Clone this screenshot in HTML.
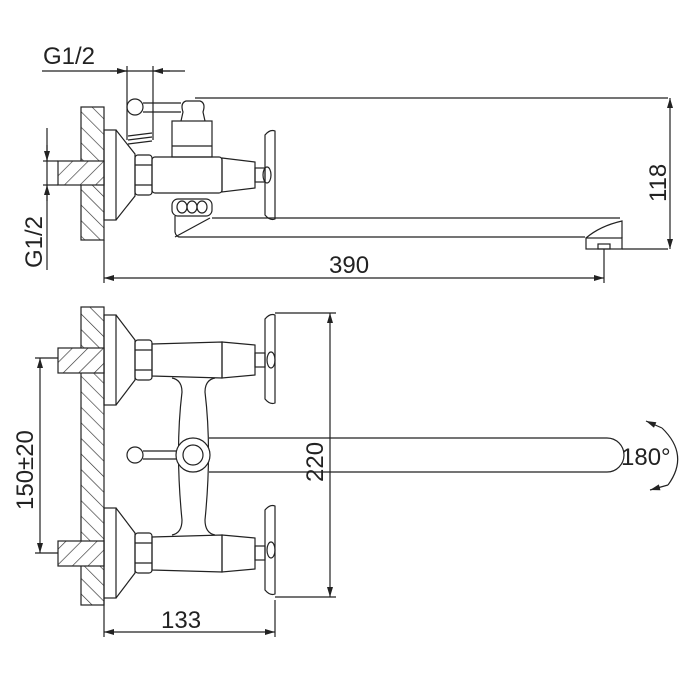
<!DOCTYPE html>
<html><head><meta charset="utf-8"><style>body{margin:0;background:#fff}svg{display:block}text{font-family:"Liberation Sans",sans-serif;font-size:24px;fill:#222}</style></head><body>
<svg width="700" height="700" viewBox="0 0 700 700" xmlns="http://www.w3.org/2000/svg">
<defs>
<pattern id="h" width="11" height="11" patternUnits="userSpaceOnUse" patternTransform="rotate(-45)"><rect width="11" height="11" fill="#fff"/><line x1="0" y1="0" x2="0" y2="11" stroke="#333" stroke-width="1.3"/></pattern>
<pattern id="h2" width="11" height="11" patternUnits="userSpaceOnUse" patternTransform="rotate(45)"><rect width="11" height="11" fill="#fff"/><line x1="0" y1="0" x2="0" y2="11" stroke="#333" stroke-width="1.3"/></pattern>
<marker id="a" viewBox="0 0 10 6" refX="10" refY="3" markerWidth="14" markerHeight="6" markerUnits="userSpaceOnUse" orient="auto"><path d="M0,0L10,3L0,6z" fill="#222"/></marker>
</defs>
<g fill="none" stroke="#222" stroke-width="1.2">
<!-- TOP VIEW -->
<rect x="81" y="107" width="23" height="133" fill="url(#h)"/>
<rect x="58" y="161" width="46" height="24" fill="url(#h2)"/>
<line x1="42" y1="71" x2="185" y2="71"/>
<line x1="110" y1="71" x2="127" y2="71" marker-end="url(#a)"/>
<line x1="170" y1="71" x2="153" y2="71" marker-end="url(#a)"/>
<line x1="127" y1="66" x2="127" y2="140"/><line x1="153" y1="66" x2="153" y2="140"/>
<line x1="47" y1="128" x2="47" y2="270"/>
<line x1="47" y1="145" x2="47" y2="161" marker-end="url(#a)"/>
<line x1="47" y1="201" x2="47" y2="185" marker-end="url(#a)"/>
<line x1="43" y1="161" x2="58" y2="161"/><line x1="43" y1="185" x2="58" y2="185"/>
<rect x="104" y="130" width="12" height="90"/>
<path d="M116,130 L135,154 L135,196 L116,220"/>
<rect x="135" y="155" width="17" height="40" rx="3"/>
<line x1="135" y1="165" x2="152" y2="165"/><line x1="135" y1="185" x2="152" y2="185"/>
<rect x="152" y="157" width="70" height="36" rx="3"/>
<path d="M222,158 L255,162 L255,188 L222,192z"/>
<rect x="255" y="168" width="10" height="14"/>
<path d="M265,135 Q270,129 275,131 L275,219 Q270,221 265,215 Z"/>
<ellipse cx="267" cy="175" rx="4" ry="8"/>
<rect x="172" y="121" width="40" height="36"/>
<line x1="172" y1="146" x2="212" y2="146"/>
<path d="M181,121 L183,112 Q180,103 186,101 L200,101 Q206,103 203,112 L205,121"/>
<circle cx="135" cy="107" r="8"/>
<line x1="143" y1="103" x2="181" y2="103"/><line x1="143" y1="112" x2="181" y2="112"/>
<line x1="128" y1="136" x2="152" y2="133"/><line x1="128" y1="140" x2="152" y2="137"/><line x1="128" y1="144" x2="152" y2="141"/>
<rect x="172" y="199" width="40" height="17" rx="6"/>
<ellipse cx="182" cy="207" rx="5" ry="6"/><ellipse cx="192" cy="207" rx="5" ry="6"/><ellipse cx="202" cy="207" rx="5" ry="6"/>
<line x1="212" y1="218" x2="620" y2="218"/>
<path d="M175,216 L175,232 Q176,237 180,237 L585,237"/>
<path d="M175,237 L210,218"/>
<path d="M586,238 Q600,226 622,221 L622,238"/>
<rect x="586" y="238" width="36" height="11"/>
<rect x="598" y="244" width="12" height="5"/>
<line x1="195" y1="98" x2="668" y2="98"/><line x1="622" y1="249" x2="668" y2="249"/>
<line x1="670" y1="120" x2="670" y2="98" marker-end="url(#a)"/>
<line x1="670" y1="120" x2="670" y2="228"/>
<line x1="670" y1="228" x2="670" y2="249" marker-end="url(#a)"/>
<line x1="104" y1="240" x2="104" y2="283"/><line x1="604" y1="249" x2="604" y2="283"/>
<line x1="125" y1="278" x2="585" y2="278"/>
<line x1="125" y1="278" x2="104" y2="278" marker-end="url(#a)"/>
<line x1="585" y1="278" x2="604" y2="278" marker-end="url(#a)"/>

<!-- BOTTOM VIEW -->
<rect x="81" y="307" width="23" height="298" fill="url(#h)"/>
<rect x="58" y="348" width="46" height="25" fill="url(#h2)"/>
<rect x="58" y="541" width="46" height="25" fill="url(#h2)"/>
<line x1="35" y1="358" x2="58" y2="358"/><line x1="35" y1="553" x2="58" y2="553"/>
<line x1="40" y1="378" x2="40" y2="358" marker-end="url(#a)"/>
<line x1="40" y1="378" x2="40" y2="533"/>
<line x1="40" y1="533" x2="40" y2="553" marker-end="url(#a)"/>
<rect x="104" y="315" width="12" height="90"/>
<path d="M116,315 L135,340 L135,380 L116,405"/>
<rect x="135" y="340" width="17" height="40" rx="3"/>
<line x1="135" y1="350" x2="152" y2="350"/><line x1="135" y1="370" x2="152" y2="370"/>
<path d="M152,344 L222,342 L222,378 L152,376z"/>
<path d="M222,342 L255,345 L255,375 L222,378z"/>
<rect x="255" y="353" width="10" height="14"/>
<path d="M265,319 Q270,313 275,315 L275,403 Q270,405 265,399 Z"/>
<ellipse cx="271" cy="360" rx="4" ry="8"/>
<rect x="104" y="508" width="12" height="90"/>
<path d="M116,508 L135,533 L135,573 L116,598"/>
<rect x="135" y="533" width="17" height="40" rx="3"/>
<line x1="135" y1="543" x2="152" y2="543"/><line x1="135" y1="563" x2="152" y2="563"/>
<path d="M152,537 L222,535 L222,572 L152,570z"/>
<path d="M222,535 L255,538 L255,569 L222,572z"/>
<rect x="255" y="546" width="10" height="14"/>
<path d="M265,510 Q270,504 275,506 L275,594 Q270,596 265,590 Z"/>
<ellipse cx="271" cy="550" rx="4" ry="8"/>
<path d="M172,378 Q182,380 182,392 Q175,450 182,520 Q182,533 172,535"/>
<path d="M215,378 Q205,380 205,392 Q212,450 205,520 Q205,533 215,535"/>
<circle cx="193" cy="455" r="17" fill="#fff"/><circle cx="193" cy="455" r="10"/>
<circle cx="135" cy="455" r="8"/>
<line x1="143" y1="451" x2="176" y2="451"/><line x1="143" y1="459" x2="176" y2="459"/>
<path d="M209,438 L607,438 A17,17 0 0 1 607,472 L209,472"/>
<line x1="275" y1="313" x2="336" y2="313"/><line x1="275" y1="597" x2="336" y2="597"/>
<line x1="330" y1="335" x2="330" y2="313" marker-end="url(#a)"/>
<line x1="330" y1="335" x2="330" y2="575"/>
<line x1="330" y1="575" x2="330" y2="597" marker-end="url(#a)"/>
<line x1="104" y1="598" x2="104" y2="637"/><line x1="275" y1="600" x2="275" y2="637"/>
<line x1="125" y1="632" x2="104" y2="632" marker-end="url(#a)"/>
<line x1="125" y1="632" x2="255" y2="632"/>
<line x1="255" y1="632" x2="275" y2="632" marker-end="url(#a)"/>
<path d="M662,428 Q690,455 668,485"/>
<line x1="662" y1="428" x2="646" y2="421" marker-end="url(#a)"/>
<line x1="668" y1="485" x2="650" y2="490" marker-end="url(#a)"/>
</g>
<text x="43" y="64">G1/2</text>
<text x="329" y="273">390</text>
<text x="161" y="628">133</text>
<text x="621" y="465">180°</text>
<text transform="translate(42,268) rotate(-90)">G1/2</text>
<text transform="translate(666,202) rotate(-90)">118</text>
<text transform="translate(33,510) rotate(-90)">150±20</text>
<text transform="translate(323,482) rotate(-90)">220</text>
</svg>
</body></html>
